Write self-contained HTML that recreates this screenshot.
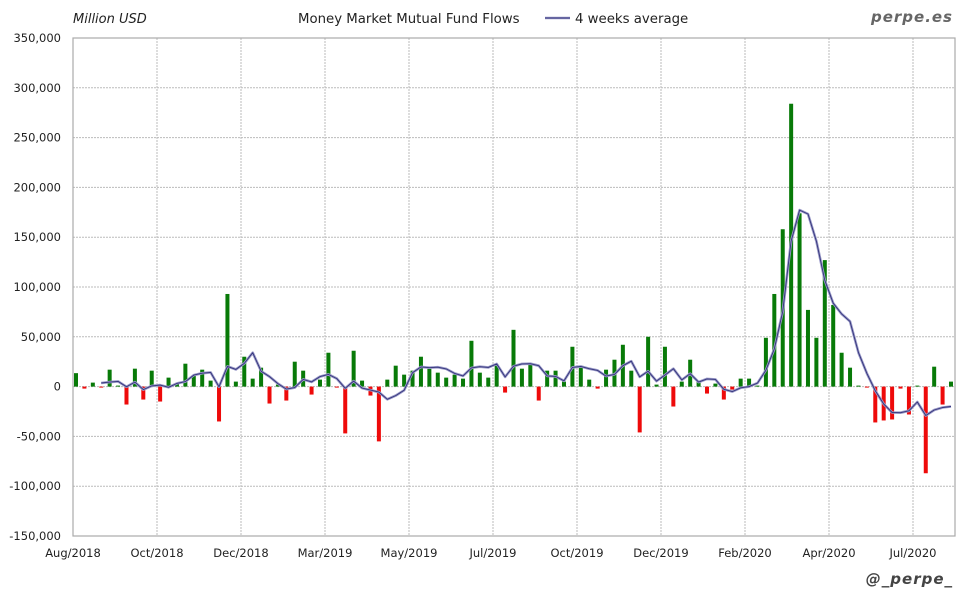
<!DOCTYPE html>
<html><head><meta charset="utf-8"><style>
body{margin:0;background:#fff;width:980px;height:600px;overflow:hidden}
text{font-family:"DejaVu Sans","Liberation Sans",sans-serif}
</style></head><body>
<svg id="s" width="980" height="600" xmlns="http://www.w3.org/2000/svg">
<rect x="0" y="0" width="980" height="600" fill="#fff"/>
<g id="grid"></g>
<g id="bars"></g>
<g id="line"></g>
<rect x="73" y="38" width="882" height="498" fill="none" stroke="#aaa" stroke-width="1.2"/>
<g id="labels" font-size="11.5" fill="#222"></g>
<text x="73" y="23" font-size="13" font-style="italic" fill="#222">Million USD</text>
<text x="298" y="23" font-size="13.3" fill="#222">Money Market Mutual Fund Flows</text>
<line x1="545" y1="18" x2="570" y2="18" stroke="#9a9ac8" stroke-width="2.6"/>
<line x1="545" y1="18" x2="570" y2="18" stroke="#33337a" stroke-width="0.9"/>
<text x="575" y="23" font-size="13.3" fill="#222">4 weeks average</text>
<text x="953" y="22" font-size="15" font-weight="bold" font-style="italic" fill="#666" text-anchor="end" font-family="Liberation Mono,monospace" letter-spacing="1">perpe.es</text>
<text x="953" y="584" font-size="15" font-weight="bold" font-style="italic" fill="#444" text-anchor="end" font-family="Liberation Mono,monospace" letter-spacing="1">@_perpe_</text>
</svg>
<script>
var v=[13.5,-2,4,-1,17,1,-18,18,-13,16,-15,9,3,23,11,17,6,-35,93,5,30,8,19,-17,2,-14,25,16,-8,7,34,-1,-47,36,6,-9,-55,7,21,
12,16,30,18,14,9,12,8,46,14,9,22,-6,57,18,23,-14,16,16,5,40,20,7,-2,17,27,42,16,-46,50,2,40,-20,5,27,6,-7,3,-13,
-3,8,8,1,49,93,158,284,174,77,49,127,82,34,19,1,-1,-36,-34,-33,-2,-28,1,-87,20,-18,5];
var NS="http://www.w3.org/2000/svg";
function el(p,t,a,txt){var e=document.createElementNS(NS,t);for(var k in a)e.setAttribute(k,a[k]);if(txt!=null)e.textContent=txt;document.getElementById(p).appendChild(e);return e;}
var y0=38,k=0.996;function Y(val){return y0+(350-val)*k;}
for(var t=-150;t<=350;t+=50){var y=Y(t);
 if(t>-150&&t<350)el('grid','line',{x1:73,x2:955,y1:y,y2:y,stroke:'#bbb','stroke-dasharray':'2,1'});
 el('labels','text',{x:61,y:y+4,'text-anchor':'end'},(t<0?'-':'')+(Math.abs(t)==0?'0':Math.abs(t)+',000'));}
var xl=[[73,'Aug/2018'],[157,'Oct/2018'],[241,'Dec/2018'],[325,'Mar/2019'],[409,'May/2019'],[493,'Jul/2019'],[577,'Oct/2019'],[661,'Dec/2019'],[745,'Feb/2020'],[829,'Apr/2020'],[913,'Jul/2020']];
xl.forEach(function(a){if(a[0]>73)el('grid','line',{x1:a[0],x2:a[0],y1:38,y2:536,stroke:'#bbb','stroke-dasharray':'2,1'});
 el('labels','text',{x:a[0],y:557,'text-anchor':'middle'},a[1]);});
var n=v.length,dx=(951-76)/(n-1);var zy=Y(0);
for(var i=0;i<n;i++){var x=76+i*dx,y=Y(v[i]);
 el('bars','rect',{x:x-2,y:Math.min(y,zy),width:4,height:Math.max(Math.abs(zy-y),1),fill:v[i]>=0?'#087a08':'#ee0a0a'});}
var pts=[];for(var i=3;i<n;i++){var s=(v[i]+v[i-1]+v[i-2]+v[i-3])/4;pts.push((76+i*dx).toFixed(1)+','+Y(s).toFixed(1));}
el('line','polyline',{points:pts.join(' '),fill:'none',stroke:'#9a9ac8','stroke-width':2.6,'stroke-linejoin':'round'});
el('line','polyline',{points:pts.join(' '),fill:'none',stroke:'#33337a','stroke-width':0.9,'stroke-linejoin':'round'});
</script>
</body></html>
